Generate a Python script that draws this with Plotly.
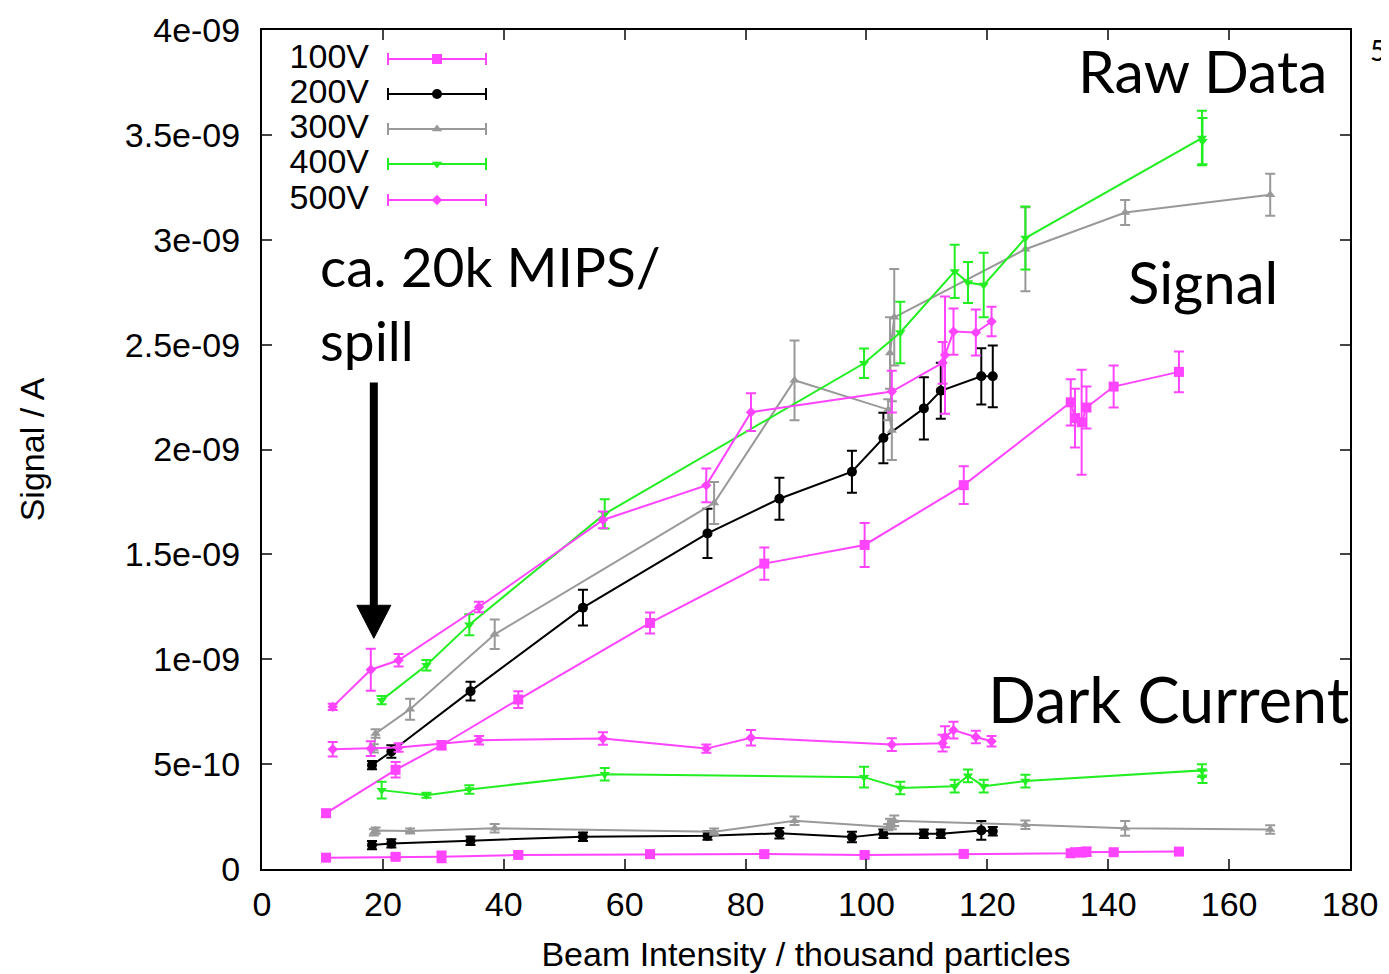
import plotly.graph_objects as go

# ---------------- data (x: thousand particles, y: nA) ----------------
x100 = [10.6, 22.1, 29.7, 42.4, 64.2, 83.1, 99.7, 116.1, 133.8, 134.5, 135.6, 136.4, 140.9, 151.7]
sig100 = [0.266, 0.473, 0.59, 0.808, 1.173, 1.456, 1.545, 1.83, 2.225, 2.15, 2.13, 2.20, 2.30, 2.37]
sig100_err = [0.015, 0.037, 0.02, 0.04, 0.05, 0.077, 0.105, 0.09, 0.11, 0.14, 0.25, 0.1, 0.1, 0.097]
dark100 = [0.054, 0.058, 0.058, 0.067, 0.071, 0.071, 0.067, 0.072, 0.075, 0.08, 0.08, 0.082, 0.08, 0.083]
dark100_err = [0.01, 0.012, 0.026, 0.012, 0.012, 0.012, 0.012, 0.012, 0.015, 0.015, 0.02, 0.02, 0.012, 0.012]

x200 = [18.2, 21.4, 34.5, 53.1, 73.7, 85.6, 97.6, 102.8, 109.5, 112.3, 119.0, 120.9]
sig200 = [0.495, 0.56, 0.848, 1.246, 1.60, 1.765, 1.894, 2.055, 2.196, 2.28, 2.349, 2.349]
sig200_err = [0.02, 0.03, 0.045, 0.085, 0.117, 0.1, 0.1, 0.12, 0.148, 0.133, 0.134, 0.147]
dark200 = [0.114, 0.122, 0.135, 0.154, 0.159, 0.17, 0.152, 0.168, 0.168, 0.168, 0.184, 0.18]
dark200_err = [0.02, 0.02, 0.02, 0.02, 0.02, 0.025, 0.025, 0.02, 0.02, 0.02, 0.045, 0.02]

x300 = [18.5, 18.8, 24.5, 38.5, 74.8, 88.1, 103.6, 104.2, 103.9, 104.6, 126.3, 142.8, 166.8]
sig300 = [0.575, 0.646, 0.762, 1.119, 1.745, 2.33, 2.19, 2.09, 2.46, 2.63, 2.955, 3.13, 3.215]
sig300_err = [0.02, 0.02, 0.05, 0.07, 0.1, 0.19, 0.05, 0.14, 0.17, 0.23, 0.2, 0.06, 0.1]
dark300 = [0.175, 0.183, 0.181, 0.194, 0.178, 0.23, 0.2, 0.21, 0.22, 0.23, 0.211, 0.194, 0.188]
dark300_err = [0.015, 0.015, 0.012, 0.02, 0.015, 0.02, 0.015, 0.02, 0.02, 0.025, 0.02, 0.035, 0.02]

x400 = [19.8, 27.2, 34.3, 56.7, 99.6, 105.6, 114.6, 116.8, 119.4, 126.3, 155.5, 155.6]
sig400 = [0.805, 0.971, 1.165, 1.693, 2.411, 2.558, 2.849, 2.796, 2.784, 3.008, 3.485, 3.47]
sig400_err = [0.02, 0.025, 0.05, 0.07, 0.07, 0.147, 0.127, 0.098, 0.154, 0.15, 0.13, 0.11]
dark400 = [0.376, 0.352, 0.379, 0.452, 0.438, 0.386, 0.395, 0.444, 0.395, 0.419, 0.47, 0.44]
dark400_err = [0.04, 0.012, 0.02, 0.03, 0.05, 0.03, 0.03, 0.03, 0.03, 0.03, 0.03, 0.03]

x500 = [11.7, 18.0, 22.6, 35.9, 56.4, 73.5, 80.9, 104.2, 112.6, 113.0, 114.4, 118.1, 120.7]
sig500 = [0.773, 0.95, 0.995, 1.249, 1.664, 1.829, 2.178, 2.276, 2.413, 2.45, 2.562, 2.558, 2.61]
sig500_err = [0.015, 0.1, 0.03, 0.025, 0.04, 0.08, 0.09, 0.1, 0.1, 0.28, 0.11, 0.11, 0.07]
dark500 = [0.571, 0.574, 0.579, 0.614, 0.622, 0.574, 0.626, 0.593, 0.60, 0.63, 0.662, 0.629, 0.609]
dark500_err = [0.035, 0.035, 0.02, 0.02, 0.03, 0.02, 0.037, 0.03, 0.04, 0.05, 0.04, 0.03, 0.025]

labels = ["100V", "200V", "300V", "400V", "500V"]
colors = ["#ff44ff", "#000000", "#999999", "#22ee22", "#ff44ff"]
symbols = ["square", "circle", "triangle-up", "triangle-down", "diamond"]
msizes = [10, 10, 9, 9, 8]

y_tickvals = [0, 0.5, 1.0, 1.5, 2.0, 2.5, 3.0, 3.5, 4.0]
y_ticktext = ["0", "5e-10", "1e-09", "1.5e-09", "2e-09", "2.5e-09", "3e-09", "3.5e-09", "4e-09"]
x_tickvals = [0, 20, 40, 60, 80, 100, 120, 140, 160, 180]

series = [
    (x100, sig100, sig100_err, dark100, dark100_err),
    (x200, sig200, sig200_err, dark200, dark200_err),
    (x300, sig300, sig300_err, dark300, dark300_err),
    (x400, sig400, sig400_err, dark400, dark400_err),
    (x500, sig500, sig500_err, dark500, dark500_err),
]

AXFONT = "Liberation Sans, Arial, Helvetica, sans-serif"
GILL = "Lato, Gill Sans, sans-serif"

fig = go.Figure()
for i, (xs, s, se, d, de) in enumerate(series):
    for ys, es in ((d, de), (s, se)):
        fig.add_trace(go.Scatter(
            x=xs, y=[v * 1e-9 for v in ys],
            mode="lines+markers",
            line=dict(color=colors[i], width=2),
            marker=dict(symbol=symbols[i], size=msizes[i], color=colors[i]),
            error_y=dict(type="data", array=[e * 1e-9 for e in es], visible=True,
                         color=colors[i], thickness=2, width=5),
            showlegend=False, name=labels[i],
        ))

# ---------- gnuplot-style key drawn on an overlay pixel axis ----------
PW, PH = 1088, 839
key_rows = [29, 64, 99, 134, 170]
key_cx, key_half = 175, 49
for i in range(5):
    fig.add_trace(go.Scatter(
        x=[key_cx], y=[key_rows[i]], xaxis="x2", yaxis="y2",
        mode="markers",
        marker=dict(symbol=symbols[i], size=msizes[i], color=colors[i]),
        error_x=dict(type="data", array=[key_half], visible=True,
                     color=colors[i], thickness=2, width=6),
        showlegend=False, hoverinfo="skip",
    ))
fig.add_trace(go.Scatter(
    x=[107] * 5, y=key_rows, xaxis="x2", yaxis="y2",
    mode="text", text=labels, textposition="middle left",
    textfont=dict(family=AXFONT, size=34, color="black"),
    showlegend=False, hoverinfo="skip",
))

# ---------- arrow ----------
arrow_x = 18.5
fig.add_shape(type="line", x0=arrow_x, x1=arrow_x, y0=2.32e-9, y1=1.2e-9,
              line=dict(color="black", width=8), layer="above")
fig.add_shape(type="path", xref="x", yref="y", xsizemode="pixel", ysizemode="pixel",
              xanchor=arrow_x, yanchor=1.1e-9,
              path="M -17,33 L 17,33 L 0,0 Z",
              fillcolor="black", line=dict(color="black", width=1), layer="above")

# ---------- text annotations (positions in page pixels of the plot frame) ----------
def ptxt(text, px, py, size, anchor="left", family=GILL):
    fig.add_annotation(x=(px - 262) / PW, y=(869 - py) / PH, xref="paper", yref="paper",
                       text=text, showarrow=False, xanchor=anchor, yanchor="middle",
                       font=dict(family=family, size=size, color="black"))

ptxt("Raw Data", 1076, 71, 59)
ptxt("Signal", 1126, 281, 58)
ptxt("Dark Current", 986, 698, 63)
ptxt("ca. 20k MIPS/", 318, 266, 55)
ptxt("spill", 318, 340, 55)
ptxt("5", 1388, 50, 28, anchor="right")

# The page body has an 8px margin; size the figure so the frame lands where it should.
OFF = 8
fig.update_layout(
    width=1389 - OFF, height=974 - OFF,
    margin=dict(l=262 - OFF, r=39, t=30 - OFF, b=105, autoexpand=False),
    paper_bgcolor="white", plot_bgcolor="white",
    font=dict(family=AXFONT, size=34, color="black"),
    xaxis=dict(range=[0, 180], tickvals=x_tickvals, ticks="inside", ticklen=10, tickwidth=2,
               showline=True, linewidth=2, linecolor="black", mirror="ticks",
               showgrid=False, zeroline=False, tickfont=dict(size=34), automargin=False,
               ticklabelstandoff=4,
               title=dict(text="Beam Intensity / thousand particles", font=dict(size=34), standoff=20)),
    yaxis=dict(range=[0, 4e-9], tickvals=[v * 1e-9 for v in y_tickvals], ticktext=y_ticktext,
               ticks="inside", ticklen=10, tickwidth=2,
               showline=True, linewidth=2, linecolor="black", mirror="ticks",
               showgrid=False, zeroline=False, tickfont=dict(size=34), automargin=False,
               ticklabelstandoff=13,
               title=dict(text="Signal / A", font=dict(size=34), standoff=70)),
    xaxis2=dict(overlaying="x", anchor="y2", range=[0, PW], visible=False, fixedrange=True,
                automargin=False),
    yaxis2=dict(overlaying="y", anchor="x2", range=[PH, 0], visible=False, fixedrange=True,
                automargin=False),
)

fig.write_html("out.html")
